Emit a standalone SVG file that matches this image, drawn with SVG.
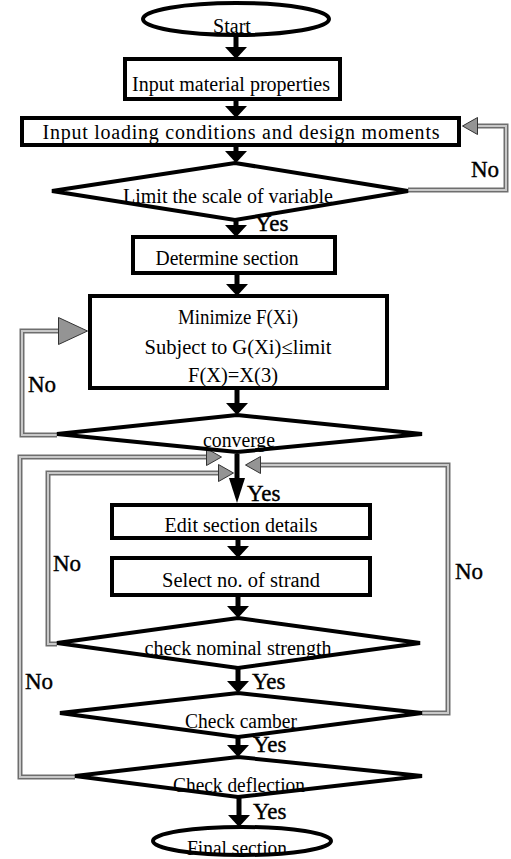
<svg xmlns="http://www.w3.org/2000/svg" width="511" height="859" viewBox="0 0 511 859">
<defs>
<style>
.n{fill:#fff;stroke:#000;stroke-width:4}
.t{font-family:"Liberation Serif","Times New Roman",serif;font-size:20px;fill:#000;text-anchor:middle}
.l{font-family:"Liberation Serif","Times New Roman",serif;font-size:23px;fill:#000;stroke:#000;stroke-width:0.4}
.ba{stroke:#000;stroke-width:5;fill:none}
.go{stroke:#6e6e6e;stroke-width:5;fill:none}
.gi{stroke:#c8c8c8;stroke-width:2;fill:none}
</style>
<marker id="bh" viewBox="0 0 12 22" refX="0" refY="11" markerWidth="12" markerHeight="22" markerUnits="userSpaceOnUse" orient="auto"><path d="M0,0 L12,11 L0,22 z" fill="#000"/></marker>
<marker id="bhl" viewBox="0 0 25 16" refX="0" refY="8" markerWidth="25" markerHeight="16" markerUnits="userSpaceOnUse" orient="auto"><path d="M0,0 L25,8 L0,16 z" fill="#000"/></marker>
<marker id="gh" viewBox="0 0 16 18" refX="0" refY="9" markerWidth="16" markerHeight="18" markerUnits="userSpaceOnUse" orient="auto"><path d="M0.5,0.5 L15.5,9 L0.5,17.5 z" fill="#949494" stroke="#333" stroke-width="1"/></marker>
<marker id="ghl" viewBox="0 0 30 28" refX="0" refY="14" markerWidth="30" markerHeight="28" markerUnits="userSpaceOnUse" orient="auto"><path d="M0.5,0.5 L29.5,14 L0.5,27.5 z" fill="#949494" stroke="#333" stroke-width="1"/></marker>
</defs>
<rect width="511" height="859" fill="#fff"/>

<g id="connectors">
<line class="ba" x1="236" y1="35" x2="236" y2="47" marker-end="url(#bh)"/>
<line class="ba" x1="236" y1="99" x2="236" y2="106" marker-end="url(#bh)"/>
<line class="ba" x1="236" y1="145" x2="236" y2="151" marker-end="url(#bh)"/>
<line class="ba" x1="236" y1="220" x2="236" y2="225" marker-end="url(#bh)"/>
<line class="ba" x1="237" y1="273" x2="237" y2="284" marker-end="url(#bh)"/>
<line class="ba" x1="237" y1="388" x2="237" y2="403" marker-end="url(#bh)"/>
<line class="ba" x1="237" y1="454" x2="237" y2="478" marker-end="url(#bhl)"/>
<line class="ba" x1="238" y1="538" x2="238" y2="546" marker-end="url(#bh)"/>
<line class="ba" x1="238" y1="595" x2="238" y2="606" marker-end="url(#bh)"/>
<line class="ba" x1="238" y1="668" x2="238" y2="681" marker-end="url(#bh)"/>
<line class="ba" x1="238" y1="737" x2="238" y2="745" marker-end="url(#bh)"/>
<line class="ba" x1="239" y1="797" x2="239" y2="815" marker-end="url(#bh)"/>

<path class="go" d="M408,190 H506 V126 H478"/>
<path class="gi" d="M408,190 H506 V126 H478" marker-end="url(#gh)"/>
<path class="go" d="M57,435 H22 V331 H58"/>
<path class="gi" d="M57,435 H22 V331 H58" marker-end="url(#ghl)"/>
<path class="go" d="M75,777 H20 V457 H206"/>
<path class="gi" d="M75,777 H20 V457 H206" marker-end="url(#gh)"/>
<path class="go" d="M57,644 H48 V473 H218"/>
<path class="gi" d="M57,644 H48 V473 H218" marker-end="url(#gh)"/>
<path class="go" d="M422,713 H448 V465 H261"/>
<path class="gi" d="M422,713 H448 V465 H261" marker-end="url(#gh)"/>

<text class="l" x="471" y="177">No</text>
<text class="l" x="28" y="392">No</text>
<text class="l" x="53" y="571">No</text>
<text class="l" x="455" y="579">No</text>
<text class="l" x="25" y="689">No</text>
<text class="l" x="255" y="231">Yes</text>
<text class="l" x="247" y="501">Yes</text>
<text class="l" x="252" y="689">Yes</text>
<text class="l" x="253" y="752">Yes</text>
<text class="l" x="253" y="819">Yes</text>
</g>

<g id="start">
<ellipse class="n" cx="236" cy="19" rx="93" ry="16"/>
<text class="t" x="232" y="33">Start</text>
</g>

<g id="material">
<rect class="n" x="125" y="59" width="215" height="40"/>
<text class="t" x="231" y="91" textLength="198" lengthAdjust="spacingAndGlyphs">Input material properties</text>
</g>

<g id="loading">
<rect class="n" x="22" y="118" width="437" height="27"/>
<text class="t" x="241" y="139" textLength="397" lengthAdjust="spacing">Input loading conditions and design moments</text>
</g>

<g id="limit">
<polygon class="n" points="235,163 408,191 235,220 52,191"/>
<text class="t" x="228" y="203" textLength="210" lengthAdjust="spacing">Limit the scale of variable</text>
</g>

<g id="determine">
<rect class="n" x="133" y="237" width="202" height="36"/>
<text class="t" x="227" y="265" textLength="143" lengthAdjust="spacingAndGlyphs">Determine section</text>
</g>

<g id="minimize">
<rect class="n" x="90" y="296" width="297" height="92"/>
<text class="t" x="238" y="324" textLength="120" lengthAdjust="spacingAndGlyphs">Minimize F(Xi)</text>
<text class="t" x="238" y="354" textLength="187" lengthAdjust="spacingAndGlyphs">Subject to G(Xi)≤limit</text>
<text class="t" x="233" y="382" textLength="90" lengthAdjust="spacingAndGlyphs">F(X)=X(3)</text>
</g>

<g id="converge">
<polygon class="n" points="237,415 422,434 237,452 57,434"/>
<text class="t" x="239" y="447" textLength="72" lengthAdjust="spacingAndGlyphs">converge</text>
</g>

<g id="edit">
<rect class="n" x="112" y="505" width="258" height="33"/>
<text class="t" x="241" y="532" textLength="153" lengthAdjust="spacingAndGlyphs">Edit section details</text>
</g>

<g id="select">
<rect class="n" x="112" y="558" width="258" height="37"/>
<text class="t" x="241" y="587" textLength="158" lengthAdjust="spacingAndGlyphs">Select no. of strand</text>
</g>

<g id="nominal">
<polygon class="n" points="238,618 420,643 238,668 57,643"/>
<text class="t" x="238" y="655" textLength="187" lengthAdjust="spacingAndGlyphs">check nominal strength</text>
</g>

<g id="camber">
<polygon class="n" points="238,693 422,713 238,737 60,713"/>
<text class="t" x="241" y="728" textLength="112" lengthAdjust="spacingAndGlyphs">Check camber</text>
</g>

<g id="deflection">
<polygon class="n" points="238,757 422,776 238,797 75,776"/>
<text class="t" x="239" y="792" textLength="132" lengthAdjust="spacingAndGlyphs">Check deflection</text>
</g>

<g id="final">
<ellipse class="n" cx="242" cy="841" rx="89" ry="14"/>
<text class="t" x="237" y="855" textLength="100" lengthAdjust="spacingAndGlyphs">Final section</text>
</g>
</svg>
